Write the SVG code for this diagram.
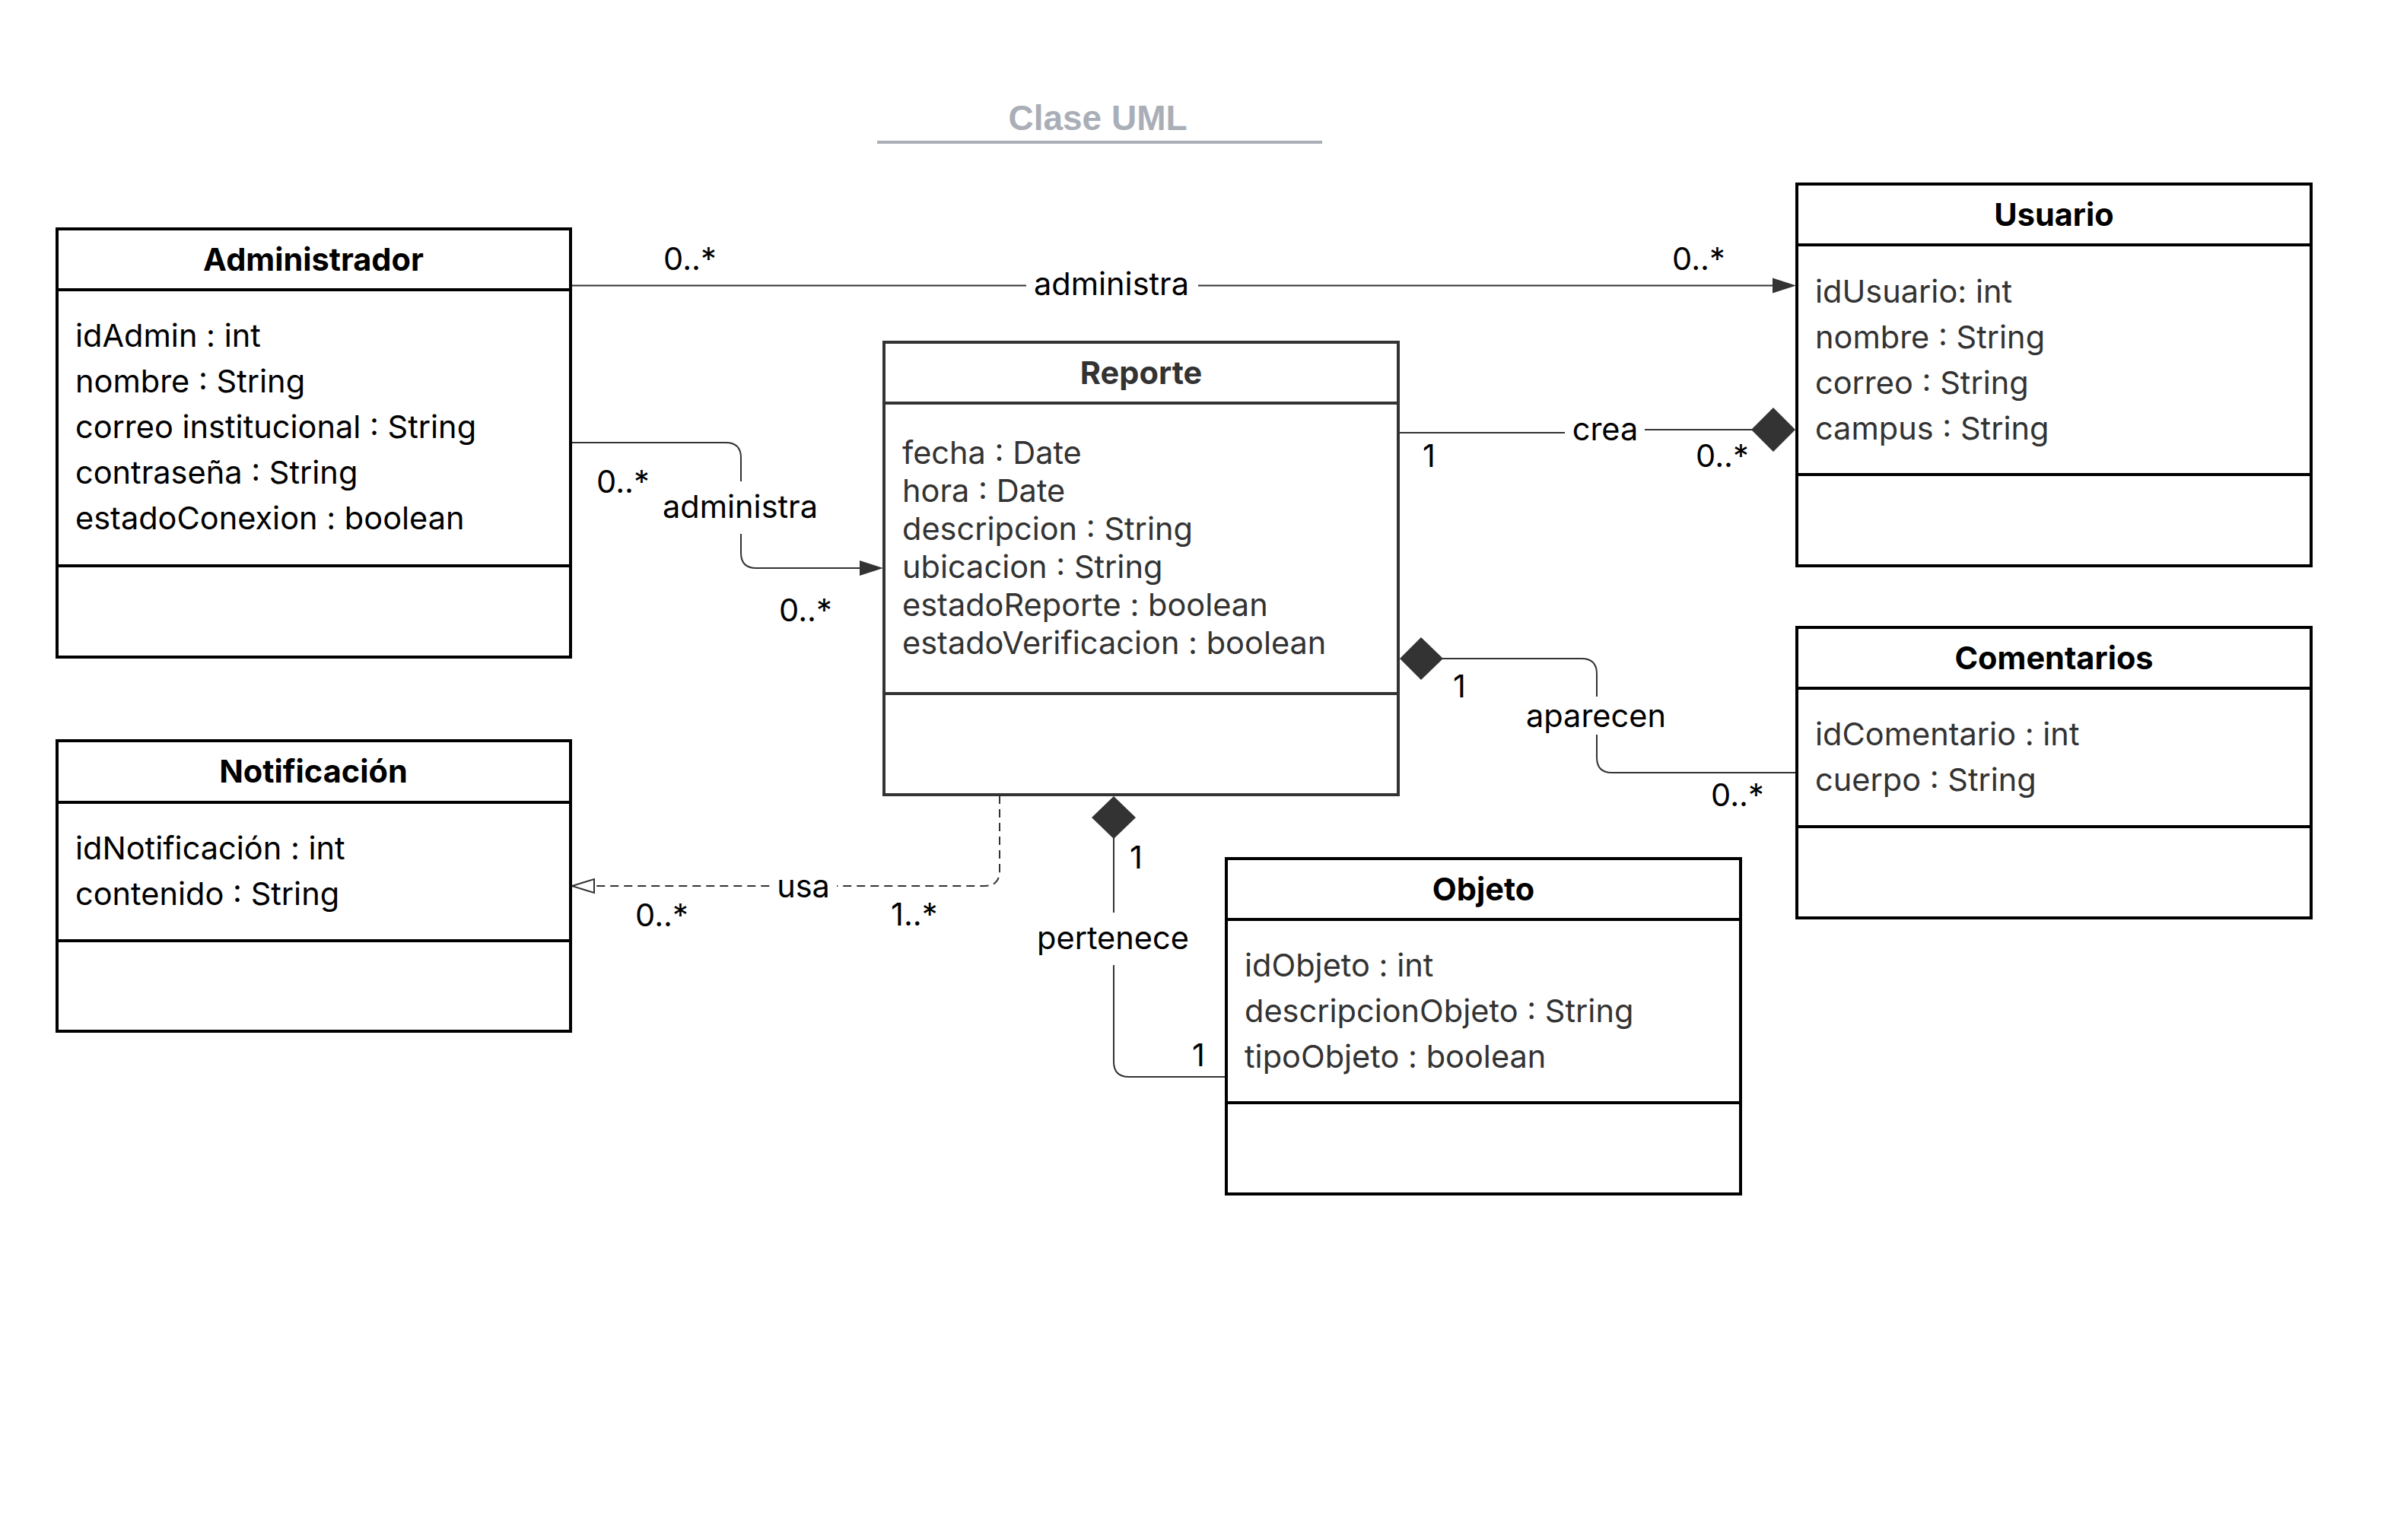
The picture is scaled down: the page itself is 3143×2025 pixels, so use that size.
<svg xmlns="http://www.w3.org/2000/svg" width="3143" height="2025" viewBox="0 0 3143 2025">
<style>
.box{fill:#fff;stroke:#000;stroke-width:4}
.box.dk{stroke:#333}
.div{stroke:#000;stroke-width:4}
.div.dk{stroke:#333}
.title{font-family:Inter,"Liberation Sans",sans-serif;font-weight:700;font-size:41.5px;fill:#000;text-anchor:middle}
.attr{font-family:Inter,"Liberation Sans",sans-serif;font-size:41.5px;fill:#000}
.attr.g{fill:#333}
.lbl{font-family:Inter,"Liberation Sans",sans-serif;font-size:41.5px;fill:#000}
.mid{text-anchor:middle}
.con{fill:none;stroke:#333;stroke-width:2}
.dash{stroke-dasharray:11 7}
.bg{fill:#fff}
.dia{fill:#333}
</style>
<rect width="3143" height="2025" fill="#fff"/>
<g id="titulo">
<text x="1443" y="171" font-family="'Liberation Sans',Arial,sans-serif" font-weight="700" font-size="46" fill="#a9aeb7" text-anchor="middle">Clase UML</text>
<line x1="1153" y1="187" x2="1738" y2="187" stroke="#a9aeb7" stroke-width="4"/>
</g>
<g id="conectores">
<line class="con" x1="752" y1="375.5" x2="2332" y2="375.5"/>
<polygon class="dia" points="2361,375.5 2330,365.5 2330,385.5"/>
<rect class="bg" x="1349" y="345" width="226" height="50"/>
<text class="lbl mid" x="1461" y="388">administra</text>
<text class="lbl" x="872" y="355">0..*</text>
<text class="lbl" x="2198" y="355">0..*</text>
<path class="con" d="M752,582 H954 Q974,582 974,602 V727 Q974,747 994,747 H1134"/>
<polygon class="dia" points="1161,747 1130,737 1130,757"/>
<rect class="bg" x="866" y="633" width="214" height="69"/>
<text class="lbl mid" x="973" y="681">administra</text>
<text class="lbl" x="784" y="648">0..*</text>
<text class="lbl" x="1024" y="817">0..*</text>
<path class="con" d="M1840,569 H2100 V565 H2304"/>
<polygon class="dia" points="2360,565 2331,536 2302,565 2331,594"/>
<rect class="bg" x="2057" y="540" width="105" height="50"/>
<text class="lbl mid" x="2110" y="579">crea</text>
<text class="lbl" x="1870" y="614">1</text>
<text class="lbl" x="2229" y="614">0..*</text>
<path class="con" d="M1895,866 H2079 Q2099,866 2099,886 V996 Q2099,1016 2119,1016 H2362"/>
<polygon class="dia" points="1840,866 1868,838 1897,866 1868,894"/>
<rect class="bg" x="2003" y="916" width="192" height="50"/>
<text class="lbl mid" x="2098" y="956">aparecen</text>
<text class="lbl" x="1910" y="917">1</text>
<text class="lbl" x="2249" y="1060">0..*</text>
<path class="con" d="M1464,1101 V1396 Q1464,1416 1484,1416 H1612"/>
<polygon class="dia" points="1464,1047 1493,1075 1464,1103 1435,1075"/>
<rect class="bg" x="1356" y="1200" width="214" height="69"/>
<text class="lbl mid" x="1463" y="1248">pertenece</text>
<text class="lbl" x="1485" y="1142">1</text>
<text class="lbl" x="1567" y="1402">1</text>
<path class="con dash" d="M1314,1046 V1145 Q1314,1165 1294,1165 H781"/>
<polygon points="752,1165 781,1156 781,1174" fill="#fff" stroke="#333" stroke-width="2"/>
<rect class="bg" x="1012" y="1140" width="88" height="48"/>
<text class="lbl mid" x="1056" y="1180">usa</text>
<text class="lbl" x="835" y="1218">0..*</text>
<text class="lbl" x="1171" y="1217">1..*</text>
</g>
<g id="administrador">
<rect class="box" x="75" y="301" width="675" height="563"/>
<line class="div" x1="75" y1="381" x2="750" y2="381"/>
<line class="div" x1="75" y1="744" x2="750" y2="744"/>
<text class="title" x="412" y="356">Administrador</text>
<text class="attr" x="99" y="456">idAdmin : int</text>
<text class="attr" x="99" y="516">nombre : String</text>
<text class="attr" x="99" y="576">correo institucional : String</text>
<text class="attr" x="99" y="636">contraseña : String</text>
<text class="attr" x="99" y="696">estadoConexion : boolean</text>
</g>
<g id="notificacion">
<rect class="box" x="75" y="974" width="675" height="382"/>
<line class="div" x1="75" y1="1055" x2="750" y2="1055"/>
<line class="div" x1="75" y1="1237" x2="750" y2="1237"/>
<text class="title" x="412" y="1029">Notificación</text>
<text class="attr" x="99" y="1130">idNotificación : int</text>
<text class="attr" x="99" y="1190">contenido : String</text>
</g>
<g id="reporte">
<rect class="box dk" x="1162" y="450" width="676" height="595"/>
<line class="div dk" x1="1162" y1="530" x2="1838" y2="530"/>
<line class="div dk" x1="1162" y1="912" x2="1838" y2="912"/>
<text class="title" x="1500" y="505" style="fill:#333">Reporte</text>
<text class="attr g" x="1186" y="610">fecha : Date</text>
<text class="attr g" x="1186" y="660">hora : Date</text>
<text class="attr g" x="1186" y="710">descripcion : String</text>
<text class="attr g" x="1186" y="760">ubicacion : String</text>
<text class="attr g" x="1186" y="810">estadoReporte : boolean</text>
<text class="attr g" x="1186" y="860">estadoVerificacion : boolean</text>
</g>
<g id="usuario">
<rect class="box" x="2362" y="242" width="676" height="502"/>
<line class="div" x1="2362" y1="322" x2="3038" y2="322"/>
<line class="div" x1="2362" y1="624" x2="3038" y2="624"/>
<text class="title" x="2700" y="297">Usuario</text>
<text class="attr g" x="2386" y="398">idUsuario: int</text>
<text class="attr g" x="2386" y="458">nombre : String</text>
<text class="attr g" x="2386" y="518">correo : String</text>
<text class="attr g" x="2386" y="578">campus : String</text>
</g>
<g id="comentarios">
<rect class="box" x="2362" y="825" width="676" height="382"/>
<line class="div" x1="2362" y1="905" x2="3038" y2="905"/>
<line class="div" x1="2362" y1="1087" x2="3038" y2="1087"/>
<text class="title" x="2700" y="880">Comentarios</text>
<text class="attr g" x="2386" y="980">idComentario : int</text>
<text class="attr g" x="2386" y="1040">cuerpo : String</text>
</g>
<g id="objeto">
<rect class="box" x="1612" y="1129" width="676" height="441"/>
<line class="div" x1="1612" y1="1209" x2="2288" y2="1209"/>
<line class="div" x1="1612" y1="1450" x2="2288" y2="1450"/>
<text class="title" x="1950" y="1184">Objeto</text>
<text class="attr g" x="1636" y="1284">idObjeto : int</text>
<text class="attr g" x="1636" y="1344">descripcionObjeto : String</text>
<text class="attr g" x="1636" y="1404">tipoObjeto : boolean</text>
</g>
</svg>
